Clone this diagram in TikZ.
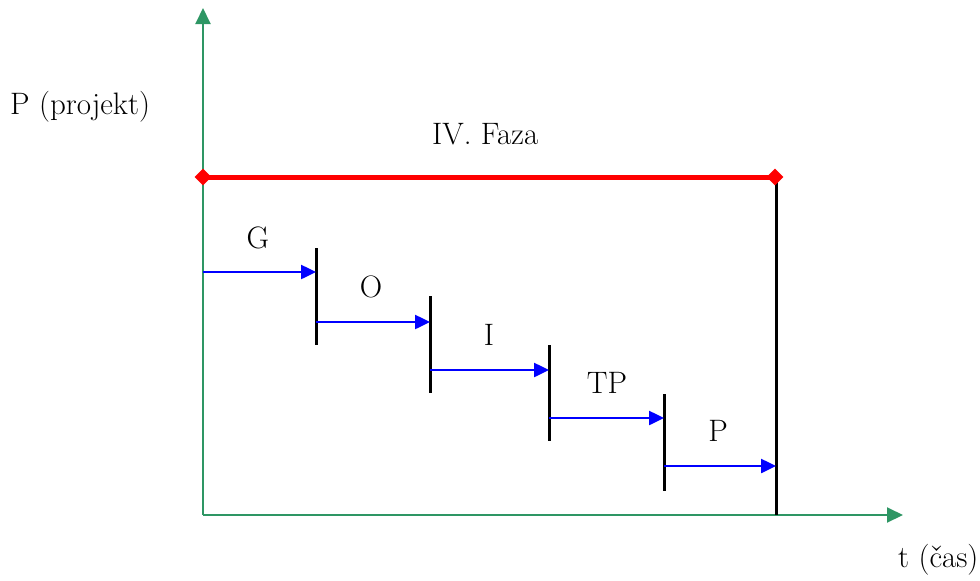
\documentclass[tikz,border=0pt]{standalone}
\usepackage{fontspec}
\usetikzlibrary{arrows.meta,shapes.geometric}
\definecolor{axisgreen}{RGB}{46,150,100}
\definecolor{segblue}{RGB}{0,0,255}
\definecolor{phasered}{RGB}{255,0,0}
\tikzset{
  axisline/.style={draw=axisgreen,line width=2pt,-{Triangle[length=16pt,width=15pt]}},
  redline/.style={draw=phasered,line width=5pt},
  dia/.style={diamond,fill=phasered,inner sep=0pt,minimum width=17pt,minimum height=17pt},
  bar/.style={draw=black,line width=3pt},
  segarrow/.style={draw=segblue,line width=2.5pt,-{Triangle[length=15pt,width=14pt]}},
  lbl/.style={font=\rmfamily\fontsize{31}{36}\selectfont,inner sep=0pt,anchor=base}
}
\begin{document}
\begin{tikzpicture}[x=1pt,y=-1pt]
\useasboundingbox (0,0) rectangle (980,581);
% axes
\coordinate (O) at (203,515);
\coordinate (ytop) at (203,8);
\coordinate (xend) at (903,515);
\draw[axisline] (O) -- (ytop);
\draw[axisline] (O) -- (xend);
% black bars
\coordinate (b1t) at (316,248); \coordinate (b1b) at (316,345);
\coordinate (b2t) at (430,296); \coordinate (b2b) at (430,393);
\coordinate (b3t) at (549,345); \coordinate (b3b) at (549,441);
\coordinate (b4t) at (664,394); \coordinate (b4b) at (664,491);
\coordinate (b5t) at (776,177); \coordinate (b5b) at (776,515);
\foreach \i in {1,...,5} {\draw[bar] (b\i t) -- (b\i b);}
% blue arrows
\coordinate (a0) at (203,272); \coordinate (a1) at (316,272);
\coordinate (c1) at (316,322); \coordinate (c2) at (430,322);
\coordinate (d2) at (430,370); \coordinate (d3) at (549,370);
\coordinate (e3) at (549,418); \coordinate (e4) at (664,418);
\coordinate (f4) at (664,466); \coordinate (f5) at (776,466);
\draw[segarrow] (a0) -- (a1);
\draw[segarrow] (c1) -- (c2);
\draw[segarrow] (d2) -- (d3);
\draw[segarrow] (e3) -- (e4);
\draw[segarrow] (f4) -- (f5);
% red phase line
\coordinate (r1c) at (203,177);
\coordinate (r2c) at (775,177);
\draw[redline] (r1c) -- (r2c);
\node[dia] (r1) at (r1c) {};
\node[dia] (r2) at (r2c) {};
% labels
\node[lbl,anchor=base west] (ylab) at (10,114) {P (projekt)};
\node[lbl,anchor=base west] (faza) at (432,144) {IV. Faza};
\node[lbl,anchor=base west] (xlab) at (898,567) {t (čas)};
\node[lbl] (lG) at (258,248) {G};
\node[lbl] (lO) at (371,297) {O};
\node[lbl] (lI) at (489,345) {I};
\node[lbl] (lTP) at (607,393) {TP};
\node[lbl] (lP) at (718,441) {P};
\end{tikzpicture}
\end{document}
